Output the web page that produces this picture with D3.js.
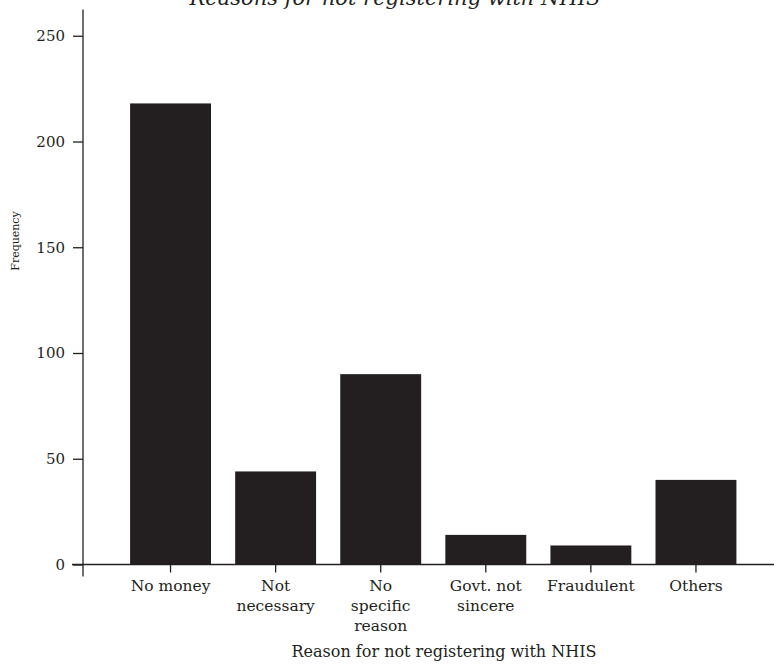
<!DOCTYPE html>
<html>
<head>
<meta charset="utf-8">
<script src="https://cdn.jsdelivr.net/npm/d3@7"></script>
<style>
  html, body { margin: 0; padding: 0; background: #fff; }
  svg { display: block; }
  text { font-family: "DejaVu Serif", serif; fill: #231f20; }
</style>
</head>
<body>
<svg id="chart" width="774" height="666"></svg>
<script>
const categories = [["No money"], ["Not", "necessary"], ["No", "specific", "reason"], ["Govt. not", "sincere"], ["Fraudulent"], ["Others"]];
const values = [218, 44, 90, 14, 9, 40];
const yTicks = [0, 50, 100, 150, 200, 250];
const title = "Reasons for not registering with NHIS";
const xTitle = "Reason for not registering with NHIS";
const yTitle = "Frequency";

const svg = d3.select("#chart");
const ink = "#231f20";
const keys = categories.map(c => c.join(" "));

const x = d3.scaleBand().domain(keys).range([118, 748.5]).paddingInner(0.23).paddingOuter(0.115);
const y = d3.scaleLinear().domain([0, 250]).range([564.5, 35.75]);

// bars
svg.append("g").selectAll("rect").data(values).join("rect")
  .attr("x", (d, i) => x(keys[i]))
  .attr("width", x.bandwidth())
  .attr("y", d => y(d))
  .attr("height", d => y(0) - y(d))
  .attr("fill", ink);

// y axis
const yAxis = svg.append("g").attr("transform", "translate(83,0)")
  .call(d3.axisLeft(y).tickValues(yTicks).tickSize(10).tickPadding(8));
yAxis.select(".domain").remove();
yAxis.append("line").attr("x1", 0).attr("x2", 0).attr("y1", 9.5).attr("y2", 576.5)
  .attr("stroke", ink).attr("stroke-width", 1.3);
yAxis.selectAll(".tick line").attr("stroke", ink).attr("stroke-width", 1.3);
yAxis.selectAll(".tick text").attr("font-size", 15).attr("font-family", "DejaVu Serif").attr("fill", ink);

// x axis
const xAxis = svg.append("g").attr("transform", `translate(0,${y(0)})`)
  .call(d3.axisBottom(x).tickSize(8).tickFormat(""));
xAxis.select(".domain").remove();
xAxis.append("line").attr("x1", 72).attr("x2", 774).attr("y1", 0).attr("y2", 0)
  .attr("stroke", ink).attr("stroke-width", 1.3);
xAxis.selectAll(".tick line").attr("stroke", ink).attr("stroke-width", 1.3);
xAxis.selectAll(".tick").each(function(d, i) {
  const t = d3.select(this).append("text")
    .attr("text-anchor", "middle").attr("font-size", 15.5).attr("fill", ink)
    .attr("y", 26);
  categories[i].forEach((line, j) => {
    t.append("tspan").attr("x", 0).attr("dy", j === 0 ? 0 : 20).text(line);
  });
});

// titles
svg.append("text").attr("x", 395).attr("y", 5).attr("text-anchor", "middle")
  .attr("font-size", 21).attr("font-style", "italic").text(title);
svg.append("text").attr("x", 444).attr("y", 657).attr("text-anchor", "middle")
  .attr("font-size", 16).text(xTitle);
svg.append("text").attr("transform", "translate(19,241) rotate(-90)").attr("text-anchor", "middle")
  .attr("font-size", 11).text(yTitle);
</script>
</body>
</html>
